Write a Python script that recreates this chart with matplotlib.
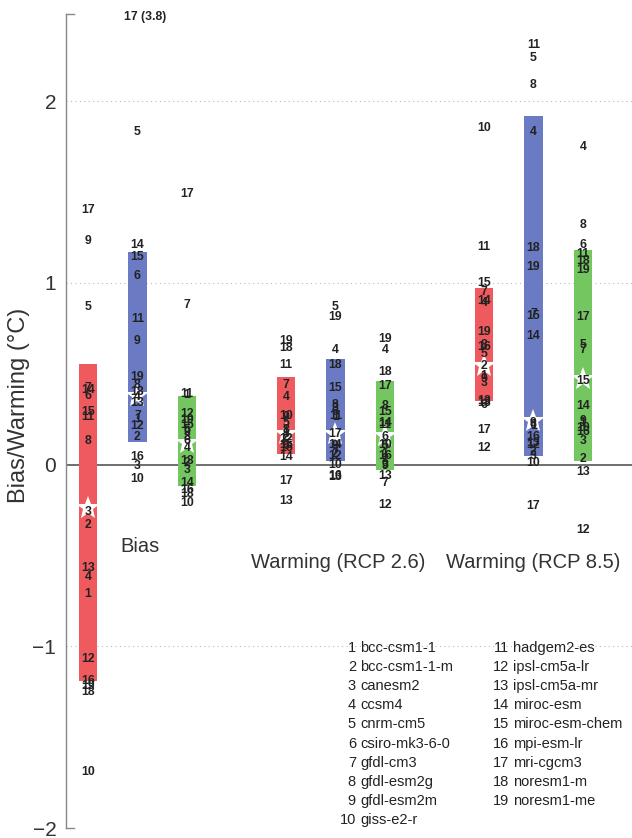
import matplotlib
matplotlib.use('Agg')
import matplotlib.pyplot as plt
import numpy as np

plt.rcParams['font.family'] = ['Liberation Sans', 'DejaVu Sans']

models = ['bcc-csm1-1', 'bcc-csm1-1-m', 'canesm2', 'ccsm4', 'cnrm-cm5',
          'csiro-mk3-6-0', 'gfdl-cm3', 'gfdl-esm2g', 'gfdl-esm2m', 'giss-e2-r',
          'hadgem2-es', 'ipsl-cm5a-lr', 'ipsl-cm5a-mr', 'miroc-esm',
          'miroc-esm-chem', 'mpi-esm-lr', 'mri-cgcm3', 'noresm1-m', 'noresm1-me']

# per-model values (model 1..19), one list per bar
bias_red = [-0.71, -0.33, -0.26, -0.62, 0.87, 0.38, 0.42, 0.13, 1.23, -1.69,
            0.26, -1.07, -0.57, 0.41, 0.29, -1.19, 1.40, -1.25, -1.22]
bias_blue = [0.25, 0.15, -0.01, 0.37, 1.83, 1.04, 0.27, 0.44, 0.68, -0.08,
             0.80, 0.21, 0.34, 1.21, 1.14, 0.04, 3.8, 0.40, 0.48]
bias_green = [0.385, 0.01, -0.03, 0.09, 0.19, 0.13, 0.88, 0.15, 0.18, -0.21,
              0.39, 0.28, 0.02, -0.10, 0.22, -0.14, 1.49, -0.16, 0.245]
r26_red = [0.18, 0.15, 0.17, 0.37, 0.23, 0.10, 0.44, 0.19, 0.26, 0.27,
           0.55, 0.14, -0.20, 0.04, 0.11, 0.09, -0.09, 0.64, 0.68]
r26_blue = [0.26, 0.06, 0.31, 0.63, 0.87, 0.29, 0.08, 0.33, 0.10, 0.0,
            0.27, 0.05, -0.07, 0.11, 0.42, -0.06, 0.17, 0.55, 0.81]
r26_green = [0.06, 0.03, 0.0, 0.63, 0.10, 0.15, -0.10, 0.32, -0.01, 0.11,
             0.22, -0.22, -0.06, 0.23, 0.29, 0.05, 0.43, 0.51, 0.69]
r85_red = [0.49, 0.54, 0.45, 0.89, 0.61, 0.33, 0.95, 0.66, 0.47, 1.85,
           1.20, 0.09, 0.35, 0.90, 1.00, 0.65, 0.19, 0.34, 0.73]
r85_blue = [0.21, 0.07, 0.05, 1.83, 2.24, 0.22, 0.83, 2.09, 0.23, 0.01,
            2.31, 0.11, 0.12, 0.71, 0.82, 0.15, -0.23, 1.19, 1.09]
r85_green = [0.23, 0.03, 0.13, 1.75, 0.66, 1.21, 0.63, 1.32, 0.24, 0.20,
             1.16, -0.36, -0.04, 0.32, 0.46, 0.18, 0.81, 1.12, 1.07]

columns = [bias_red, bias_blue, bias_green, r26_red, r26_blue, r26_green,
           r85_red, r85_blue, r85_green]
bar_low = [-1.19, 0.126, -0.115, 0.06, 0.02, -0.03, 0.35, 0.05, 0.02]
bar_high = [0.555, 1.17, 0.38, 0.48, 0.58, 0.46, 0.97, 1.92, 1.18]
bar_star = [-0.24, 0.38, 0.12, 0.17, 0.17, 0.16, 0.54, 0.24, 0.47]
group_names = ['Bias', 'Warming (RCP 2.6)', 'Warming (RCP 8.5)']

red = '#EF5A5E'
blue = '#6A7BC4'
green = '#74C660'
colors = [red, blue, green] * 3
pos = [0, 1, 2, 4, 5, 6, 8, 9, 10]

fig = plt.figure(figsize=(6.32, 8.38), dpi=100)
ax = fig.add_axes([66/632, 10/838, 1 - 66/632, 814/838])
ymin, ymax = -2, 2.48
ax.set_ylim(ymin, ymax)
ax.set_xlim(-0.444, 10.99)

for yy in [2, 1, -1]:
    ax.axhline(yy, color='#bbbbbb', lw=0.8, ls=(0, (1, 3)), zorder=0)
ax.axhline(0, color='#555555', lw=1.2, zorder=1)

ax.bar(pos, np.array(bar_high) - np.array(bar_low), bottom=bar_low,
       width=0.38, color=colors, zorder=2, linewidth=0)
ax.plot(pos, bar_star, ls='none', marker='*', ms=18, color='white',
        markeredgewidth=0, zorder=3)

for x, vals in zip(pos, columns):
    for i, v in enumerate(vals):
        if v > ymax:
            ax.text(x - 0.27, 2.465, f'{i + 1} ({v})', ha='left', va='center',
                    fontsize=8.8, fontweight='bold', color='#222222', zorder=4)
        else:
            ax.text(x, v, str(i + 1), ha='center', va='center', fontsize=8.8,
                    fontweight='bold', color='#222222', zorder=4)

ax.text(1.05, -0.45, group_names[0], ha='center', va='center', fontsize=14.5,
        color='#333333')
ax.text(5.05, -0.54, group_names[1], ha='center', va='center', fontsize=14.5,
        color='#333333')
ax.text(9.0, -0.54, group_names[2], ha='center', va='center', fontsize=14.5,
        color='#333333')

for s in ['top', 'right', 'bottom']:
    ax.spines[s].set_visible(False)
ax.spines['left'].set_color('#888888')
ax.spines['left'].set_linewidth(1.0)
ax.plot([-0.444, -0.28], [ymax, ymax], color='#888888', lw=1.0, clip_on=False)
ax.plot([-0.444, -0.28], [ymin, ymin], color='#888888', lw=1.0, clip_on=False)

ax.set_xticks([])
ax.set_yticks([-2, -1, 0, 1, 2])
ax.set_yticklabels(['\u22122', '\u22121', '0', '1', '2'])
ax.tick_params(axis='y', length=0, pad=7, labelsize=15, labelcolor='#333333')
fig.text(19 / 632, 1 - 405 / 838, 'Bias/Warming (\u00b0C)', rotation=90,
         ha='center', va='center', fontsize=17, color='#333333')

# model key
for i, name in enumerate(models):
    col = 0 if i < 10 else 1
    row = i if i < 10 else i - 10
    xn = 356 if col == 0 else 509
    yp = 648 + row * 19.1
    fig.text(xn / 632, 1 - yp / 838, str(i + 1), ha='right', va='center',
             fontsize=10.5, color='#222222')
    fig.text((xn + 4) / 632, 1 - yp / 838, name, ha='left', va='center',
             fontsize=10.5, color='#222222')

plt.savefig('out.png', dpi=100)
